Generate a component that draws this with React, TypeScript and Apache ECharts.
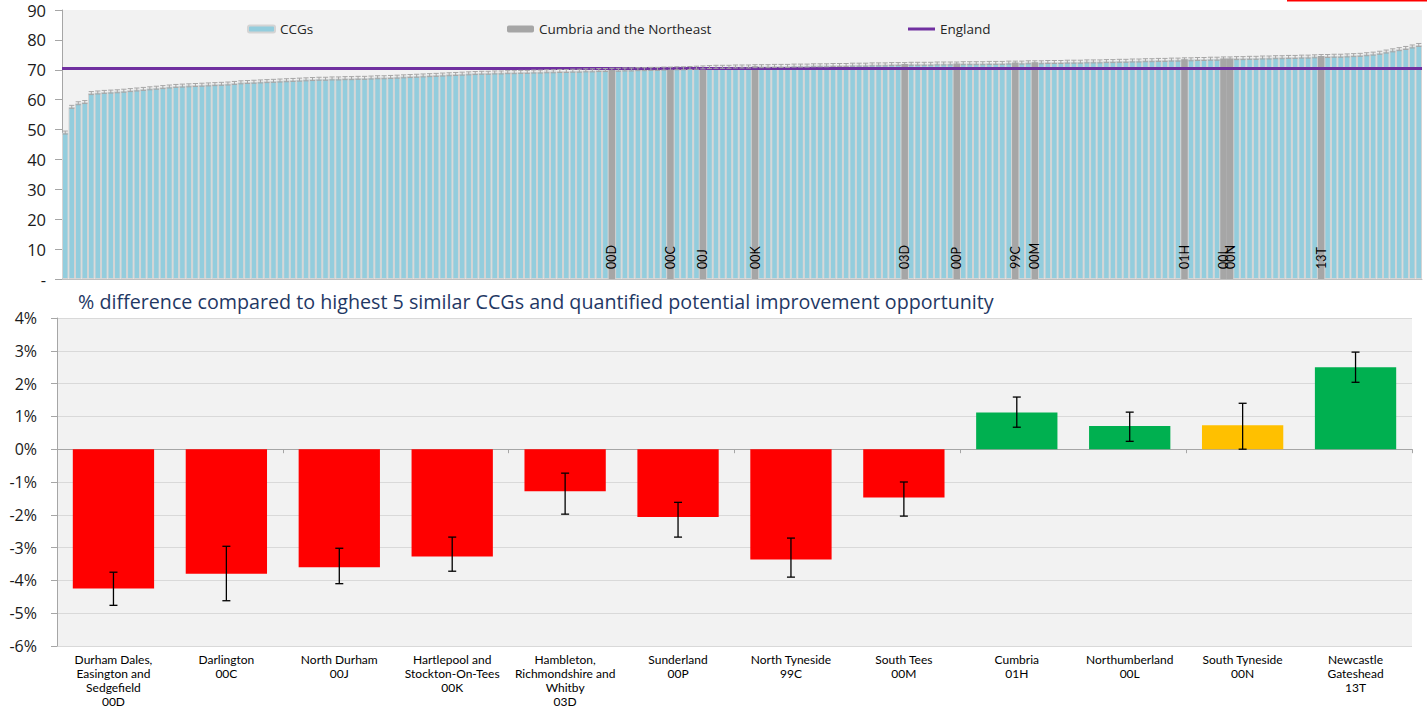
import { useEffect, useRef } from 'react';
import * as echarts from 'echarts';

// ---------- Top chart data ----------
const CCG_VALUES = [
  49.0, 57.6, 58.8, 59.2, 62.2, 62.4, 62.6, 62.7, 62.8, 63.0,
  63.2, 63.4, 63.6, 63.8, 64.0, 64.2, 64.4, 64.6, 64.7, 64.8,
  64.9, 65.0, 65.1, 65.2, 65.3, 65.4, 65.6, 65.8, 65.9, 66.0,
  66.1, 66.2, 66.3, 66.4, 66.5, 66.6, 66.7, 66.8, 66.9, 67.0,
  67.0, 67.1, 67.1, 67.2, 67.2, 67.3, 67.3, 67.4, 67.5, 67.5,
  67.6, 67.7, 67.8, 67.9, 68.0, 68.1, 68.2, 68.3, 68.4, 68.5,
  68.6, 68.7, 68.8, 68.9, 69.0, 69.0, 69.1, 69.1, 69.2, 69.2,
  69.3, 69.3, 69.4, 69.4, 69.5, 69.5, 69.6, 69.6, 69.7, 69.7,
  69.8, 69.8, 69.9, 69.9, 70.0, 70.0, 70.1, 70.1, 70.2, 70.2,
  70.3, 70.3, 70.4, 70.4, 70.5, 70.5, 70.6, 70.7, 70.8, 70.9,
  71.0, 71.0, 71.0, 71.1, 71.1, 71.1, 71.2, 71.2, 71.2, 71.3,
  71.3, 71.3, 71.4, 71.4, 71.4, 71.5, 71.5, 71.5, 71.6, 71.6,
  71.6, 71.7, 71.7, 71.7, 71.8, 71.8, 71.8, 71.9, 71.9, 71.9,
  72.0, 72.0, 72.0, 72.0, 72.1, 72.1, 72.1, 72.1, 72.2, 72.2,
  72.2, 72.2, 72.3, 72.3, 72.3, 72.4, 72.4, 72.4, 72.5, 72.5,
  72.5, 72.6, 72.6, 72.6, 72.7, 72.7, 72.7, 72.8, 72.8, 72.8,
  72.9, 72.9, 73.0, 73.0, 73.1, 73.1, 73.2, 73.2, 73.3, 73.3,
  73.4, 73.4, 73.5, 73.5, 73.6, 73.6, 73.7, 73.7, 73.8, 73.8,
  73.9, 73.9, 74.0, 74.0, 74.1, 74.1, 74.2, 74.2, 74.3, 74.3,
  74.4, 74.4, 74.5, 74.6, 74.6, 74.7, 74.7, 74.8, 74.9, 75.0,
  75.2, 75.4, 75.7, 76.1, 76.5, 76.9, 77.3, 77.8, 78.3,
];
const CCG_CATEGORIES = CCG_VALUES.map((_, i) => String(i + 1));
const HIGHLIGHT_INDEX = [84, 93, 98, 106, 129, 137, 146, 149, 172, 178, 179, 193];
const HIGHLIGHT_CODES = ['00D', '00C', '00J', '00K', '03D', '00P', '99C', '00M', '01H', '00L', '00N', '13T'];
const ENGLAND_VALUE = 70.5;
const CCG_CI_HALF = 0.5;
const TOP_Y_MIN = 0;
const TOP_Y_MAX = 90;
const TOP_Y_STEP = 10;

// ---------- Bottom chart data ----------
const PEER_LABELS = [
  'Durham Dales,\nEasington and\nSedgefield\n00D',
  'Darlington\n00C',
  'North Durham\n00J',
  'Hartlepool and\nStockton-On-Tees\n00K',
  'Hambleton,\nRichmondshire and\nWhitby\n03D',
  'Sunderland\n00P',
  'North Tyneside\n99C',
  'South Tees\n00M',
  'Cumbria\n01H',
  'Northumberland\n00L',
  'South Tyneside\n00N',
  'Newcastle\nGateshead\n13T',
];
const PEER_VALUES = [-4.25, -3.8, -3.6, -3.27, -1.28, -2.07, -3.36, -1.47, 1.12, 0.71, 0.73, 2.5];
const PEER_LOW = [-4.76, -4.62, -4.1, -3.72, -1.98, -2.68, -3.9, -2.04, 0.67, 0.24, 0.0, 2.04];
const PEER_HIGH = [-3.75, -2.96, -3.02, -2.68, -0.73, -1.62, -2.71, -1.0, 1.59, 1.13, 1.4, 2.96];
const PEER_STATUS = ['worse', 'worse', 'worse', 'worse', 'worse', 'worse', 'worse', 'worse', 'better', 'better', 'similar', 'better'];
const BOTTOM_Y_MIN = -6;
const BOTTOM_Y_MAX = 4;
const BOTTOM_Y_STEP = 1;

const STATUS_COLORS: Record<string, string> = {
  worse: '#ff0000',
  better: '#00b050',
  similar: '#ffc000',
};

const FONT = 'Lato';
const WIDE_FONT = 'Open Sans';

export default function App() {
  const ref = useRef<HTMLDivElement>(null);

  useEffect(() => {
    if (!ref.current) return;
    const chart = echarts.init(ref.current, null, { renderer: 'svg' });

    const highlightData = CCG_VALUES.map((v, i) =>
      HIGHLIGHT_INDEX.includes(i) ? v : '-'
    );

    const legendText = { fontSize: 13.5, color: '#262626', fontFamily: WIDE_FONT };

    const option: any = {
      animation: false,
      backgroundColor: '#ffffff',
      textStyle: { fontFamily: FONT },
      title: {
        text: '% difference compared to highest 5 similar CCGs and quantified potential improvement opportunity',
        left: 78,
        top: 291,
        padding: 0,
        textStyle: { color: '#1f3864', fontSize: 19.7, fontWeight: 'normal', fontFamily: WIDE_FONT },
      },
      graphic: [
        { type: 'rect', shape: { x: 1287, y: 0, width: 140, height: 1.5 }, style: { fill: '#ff0000' } },
      ],
      legend: [
        {
          data: ['CCGs'], left: 247, top: 22, padding: 0, itemWidth: 27, itemHeight: 7,
          selectedMode: false, textStyle: legendText,
        },
        {
          data: ['Cumbria and the Northeast'], left: 507, top: 22, padding: 0, itemWidth: 27, itemHeight: 7,
          selectedMode: false, textStyle: legendText,
        },
        {
          data: [{ name: 'England', icon: 'rect', itemStyle: { color: '#7030a0' } }],
          left: 908, top: 22, padding: 0, itemWidth: 27, itemHeight: 3,
          selectedMode: false, textStyle: legendText,
        },
      ],
      grid: [
        {
          left: 62, top: 10, width: 1360, height: 269, show: true, backgroundColor: '#f2f2f2', borderWidth: 0,
          containLabel: false, outerBoundsMode: 'none',
        },
        {
          left: 57, top: 318, width: 1355, height: 328, show: true, backgroundColor: '#f2f2f2', borderWidth: 0,
          containLabel: false, outerBoundsMode: 'none',
        },
      ],
      xAxis: [
        {
          type: 'category', gridIndex: 0, data: CCG_CATEGORIES,
          axisLine: { show: true, lineStyle: { color: '#bfbfbf' } },
          axisTick: { show: false }, axisLabel: { show: false }, splitLine: { show: false },
        },
        {
          type: 'category', gridIndex: 1, data: PEER_LABELS, position: 'bottom',
          axisLine: { show: false, onZero: false },
          axisTick: { show: false },
          axisLabel: { interval: 0, fontSize: 12, lineHeight: 14, color: '#000', margin: 6, fontFamily: FONT },
        },
        {
          type: 'category', gridIndex: 1, data: PEER_LABELS, position: 'bottom',
          axisLine: { show: true, onZero: true, lineStyle: { color: '#a6a6a6', width: 1 } },
          axisTick: { show: true, length: 4, lineStyle: { color: '#a6a6a6' } },
          axisLabel: { show: false },
        },
      ],
      yAxis: [
        {
          type: 'value', gridIndex: 0, min: TOP_Y_MIN, max: TOP_Y_MAX, interval: TOP_Y_STEP,
          axisLine: { show: true, lineStyle: { color: '#a6a6a6' } },
          axisTick: { show: true, length: 7, lineStyle: { color: '#a6a6a6' } },
          splitLine: { show: false },
          axisLabel: {
            fontSize: 16.5, color: '#1a1a1a', margin: 16, fontFamily: WIDE_FONT,
            formatter: (v: number) => (v === 0 ? '-' : String(v)),
          },
        },
        {
          type: 'value', gridIndex: 1, min: BOTTOM_Y_MIN, max: BOTTOM_Y_MAX, interval: BOTTOM_Y_STEP,
          axisLine: { show: true, lineStyle: { color: '#a6a6a6' } },
          axisTick: { show: true, length: 6, lineStyle: { color: '#a6a6a6' } },
          splitLine: { show: true, lineStyle: { color: '#d9d9d9' } },
          axisLabel: {
            fontSize: 16, color: '#1a1a1a', margin: 20, fontFamily: WIDE_FONT,
            formatter: (v: number) => `${v}%`,
          },
        },
      ],
      series: [
        {
          name: 'CCGs', type: 'bar', xAxisIndex: 0, yAxisIndex: 0,
          data: CCG_VALUES, barCategoryGap: '0%', barGap: '-100%',
          itemStyle: { color: '#93cddd', borderColor: '#d4d4d4', borderWidth: 1 },
          emphasis: { disabled: true },
        },
        {
          name: 'Cumbria and the Northeast', type: 'bar', xAxisIndex: 0, yAxisIndex: 0,
          data: highlightData, barCategoryGap: '0%', barGap: '-100%',
          itemStyle: { color: '#a6a6a6', borderColor: '#a6a6a6', borderWidth: 0 },
          emphasis: { disabled: true },
          label: {
            show: true, position: 'insideBottom', rotate: 90, align: 'left', verticalAlign: 'middle',
            distance: 10, fontSize: 12.5, color: '#000', fontFamily: FONT,
            formatter: (p: any) => {
              const k = HIGHLIGHT_INDEX.indexOf(p.dataIndex);
              return k >= 0 ? HIGHLIGHT_CODES[k] : '';
            },
          },
        },
        {
          name: 'CCG interval', type: 'custom', xAxisIndex: 0, yAxisIndex: 0, z: 5,
          data: CCG_VALUES.map((v, i) => [i, v - CCG_CI_HALF, v + CCG_CI_HALF]),
          encode: { x: 0, y: [1, 2] },
          renderItem: (params: any, api: any) => {
            const x = api.value(0);
            const lo = api.coord([x, api.value(1)]);
            const hi = api.coord([x, api.value(2)]);
            const hw = api.size([1, 0])[0] * 0.4;
            const st = { stroke: '#a6a6a6', lineWidth: 1 };
            return {
              type: 'group',
              children: [
                { type: 'line', shape: { x1: hi[0], y1: hi[1], x2: lo[0], y2: lo[1] }, style: st },
                { type: 'line', shape: { x1: hi[0] - hw, y1: hi[1], x2: hi[0] + hw, y2: hi[1] }, style: st },
                { type: 'line', shape: { x1: lo[0] - hw, y1: lo[1], x2: lo[0] + hw, y2: lo[1] }, style: st },
              ],
            };
          },
        },
        {
          name: 'England', type: 'line', xAxisIndex: 0, yAxisIndex: 0, data: [], symbol: 'none',
          lineStyle: { color: '#7030a0', width: 3 }, itemStyle: { color: '#7030a0' },
          markLine: {
            silent: true, symbol: ['none', 'none'], label: { show: false },
            lineStyle: { color: '#7030a0', width: 3, type: 'solid' },
            data: [{ yAxis: ENGLAND_VALUE }],
          },
        },
        {
          name: 'Peer difference', type: 'bar', xAxisIndex: 1, yAxisIndex: 1,
          barCategoryGap: '28%',
          data: PEER_VALUES.map((v, i) => ({ value: v, itemStyle: { color: STATUS_COLORS[PEER_STATUS[i]] } })),
          emphasis: { disabled: true },
        },
        {
          name: 'Peer interval', type: 'custom', xAxisIndex: 1, yAxisIndex: 1, z: 5,
          data: PEER_VALUES.map((_, i) => [i, PEER_LOW[i], PEER_HIGH[i]]),
          encode: { x: 0, y: [1, 2] },
          renderItem: (params: any, api: any) => {
            const x = api.value(0);
            const lo = api.coord([x, api.value(1)]);
            const hi = api.coord([x, api.value(2)]);
            const hw = 4;
            const st = { stroke: '#000', lineWidth: 1.3 };
            return {
              type: 'group',
              children: [
                { type: 'line', shape: { x1: hi[0], y1: hi[1], x2: lo[0], y2: lo[1] }, style: st },
                { type: 'line', shape: { x1: hi[0] - hw, y1: hi[1], x2: hi[0] + hw, y2: hi[1] }, style: st },
                { type: 'line', shape: { x1: lo[0] - hw, y1: lo[1], x2: lo[0] + hw, y2: lo[1] }, style: st },
              ],
            };
          },
        },
      ],
    };

    chart.setOption(option);
    return () => chart.dispose();
  }, []);

  return (
    <div
      ref={ref}
      style={{ position: 'fixed', left: 0, top: 0, width: 1427, height: 708, background: '#fff' }}
    />
  );
}
